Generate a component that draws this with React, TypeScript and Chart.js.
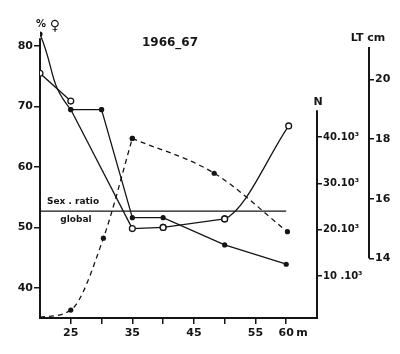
import React, { useEffect, useRef } from 'react';
import { Chart, registerables } from 'chart.js';
Chart.register(...registerables);

// ---- data ----
const depths = [20, 25, 30, 35, 40, 50, 60];
const femaleFilled = [82, 69.5, 69.5, 51.6, 51.6, 47.1, 43.9];
const openDepths = [20, 25, 35, 40, 50, 60.4];
const openValues = [75.5, 70.9, 49.8, 50.0, 51.4, 66.8];
const nDepths = [20, 25, 30.3, 35, 48.3, 60.2];
const nValues = [1200, 2700, 18200, 39700, 32200, 19600];
const globalSexRatio = 52.7;
const globalRange = [20, 60];

const xTicks = [25, 30, 35, 40, 45, 50, 55, 60];
const xTickLabels: Record<number, string> = { 25: '25', 35: '35', 45: '45', 55: '55', 60: '60' };
const leftTicks = [40, 50, 60, 70, 80];
const nTicks = [10000, 20000, 30000, 40000];
const nTickLabels = ['10 .10³', '20.10³', '30.10³', '40.10³'];
const ltTicks = [14, 16, 18, 20];

// axis extents (scale values)
const leftAxisTop = 81.3;
const nAxisTop = 45800;
const ltAxisBottom = 14;
const ltAxisTop = 21.08;

const INK = '#151515';
const FONT = '"DejaVu Sans", sans-serif';

const pts = (xs: number[], ys: number[]) => xs.map((x, i) => ({ x, y: ys[i] }));

const filledPoint = { pointRadius: 2.6, pointBackgroundColor: INK, pointBorderWidth: 0, pointBorderColor: INK };
const openPoint = { pointRadius: 2.9, pointBackgroundColor: '#fff', pointBorderWidth: 1.3, pointBorderColor: INK };
const lineBase = { borderColor: INK, borderWidth: 1.3, tension: 0, fill: false, showLine: true };
const HIDE = 'rgba(0,0,0,0)';

const annotate = {
  id: 'annotate',
  beforeDatasetsDraw(chart: any) {
    const { ctx, scales, chartArea } = chart;
    const { y, n, lt } = scales;
    ctx.save();
    ctx.strokeStyle = INK;
    ctx.lineWidth = 2;
    const line = (x0: number, y0: number, x1: number, y1: number) => {
      ctx.beginPath(); ctx.moveTo(x0, y0); ctx.lineTo(x1, y1); ctx.stroke();
    };
    line(chartArea.left - 1, chartArea.bottom, chartArea.right + 1, chartArea.bottom);
    line(chartArea.left, chartArea.bottom, chartArea.left, y.getPixelForValue(leftAxisTop));
    line(n.left, chartArea.bottom, n.left, n.getPixelForValue(nAxisTop));
    line(lt.left, lt.getPixelForValue(ltAxisBottom), lt.left, lt.getPixelForValue(ltAxisTop));
    ctx.restore();
  },
  afterDraw(chart: any) {
    const { ctx, scales, chartArea } = chart;
    const { x, y, n, lt } = scales;
    ctx.save();
    ctx.fillStyle = INK;
    ctx.textBaseline = 'middle';
    ctx.textAlign = 'center';
    ctx.font = `bold 12px ${FONT}`;
    ctx.fillText('1966_67', chartArea.left + 130, chartArea.top + 15);
    ctx.font = `bold 10px ${FONT}`;
    ctx.fillText('%', chartArea.left + 1, chartArea.top - 4);
    ctx.font = `bold 14px ${FONT}`;
    ctx.fillText('♀', chartArea.left + 15, chartArea.top - 2);
    ctx.font = `bold 11px ${FONT}`;
    ctx.fillText('N', n.left + 1, n.getPixelForValue(nAxisTop) - 8);
    ctx.fillText('LT cm', lt.left - 1, chartArea.top + 10);
    ctx.font = `bold 9px ${FONT}`;
    const gy = y.getPixelForValue(globalSexRatio);
    ctx.fillText('Sex . ratio', chartArea.left + 33, gy - 9);
    ctx.fillText('global', chartArea.left + 36, gy + 9);
    ctx.font = `bold 11px ${FONT}`;
    ctx.textAlign = 'left';
    ctx.fillText('m', x.getPixelForValue(60) + 10, chartArea.bottom + 15);
    ctx.restore();
  },
};

export default function App() {
  const ref = useRef<HTMLCanvasElement | null>(null);
  useEffect(() => {
    document.body.style.margin = '0';
    const canvas = ref.current;
    if (!canvas) return;
    const tickFont = (size: number) => ({ family: FONT, size, weight: 'bold' as const });
    const chart = new Chart(canvas, {
      type: 'line',
      data: {
        datasets: [
          {
            ...lineBase, ...filledPoint, data: pts(depths.slice(0, 3), femaleFilled.slice(0, 3)), tension: 0.5, yAxisID: 'y', order: 2,
            segment: { borderColor: (c: any) => (c.p0DataIndex === 1 ? HIDE : INK) },
          } as any,
          { ...lineBase, ...filledPoint, data: pts(depths.slice(1), femaleFilled.slice(1)), yAxisID: 'y', order: 2 } as any,
          { ...lineBase, ...openPoint, data: pts(openDepths.slice(0, 2), openValues.slice(0, 2)), yAxisID: 'y', order: 0 } as any,
          { ...lineBase, pointRadius: 0, data: [{ x: depths[1], y: femaleFilled[1] }, { x: openDepths[2], y: openValues[2] }], yAxisID: 'y', order: 3 } as any,
          { ...lineBase, ...openPoint, data: pts(openDepths.slice(2, 5), openValues.slice(2, 5)), yAxisID: 'y', order: 0 } as any,
          {
            ...lineBase, ...openPoint, data: pts(openDepths.slice(3), openValues.slice(3)), cubicInterpolationMode: 'monotone', yAxisID: 'y', order: 0,
            segment: { borderColor: (c: any) => (c.p0DataIndex === 0 ? HIDE : INK) },
          } as any,
          { ...lineBase, ...filledPoint, pointRadius: [0, 2.6, 2.6, 2.6], borderDash: [5, 4], data: pts(nDepths.slice(0, 4), nValues.slice(0, 4)), cubicInterpolationMode: 'monotone', yAxisID: 'n', order: 2 } as any,
          { ...lineBase, ...filledPoint, borderDash: [5, 4], data: pts(nDepths.slice(3), nValues.slice(3)), cubicInterpolationMode: 'monotone', yAxisID: 'n', order: 2 } as any,
          { ...lineBase, borderWidth: 1.2, pointRadius: 0, data: pts(globalRange, [globalSexRatio, globalSexRatio]), yAxisID: 'y', order: 4 } as any,
        ],
      },
      options: {
        responsive: false,
        maintainAspectRatio: false,
        animation: false,
        devicePixelRatio: 1,
        layout: { padding: { top: 28, left: 0, right: 0, bottom: 0 } },
        plugins: { legend: { display: false }, tooltip: { enabled: false }, title: { display: false } },
        scales: {
          x: {
            type: 'linear', position: 'bottom', min: 20, max: 65,
            afterBuildTicks: (s: any) => { s.ticks = xTicks.map((v) => ({ value: v })); },
            afterFit: (s: any) => { s.height = 36; },
            ticks: { callback: (v: any) => xTickLabels[v] ?? '', autoSkip: false, maxRotation: 0, color: INK, font: tickFont(11), padding: 3 },
            grid: { drawOnChartArea: false, drawTicks: true, tickLength: 6, color: INK, lineWidth: 1.5 },
            border: { display: false },
          },
          y: {
            type: 'linear', position: 'left', min: 35, max: 83,
            afterBuildTicks: (s: any) => { s.ticks = leftTicks.map((v) => ({ value: v })); },
            afterFit: (s: any) => { s.width = 40; },
            ticks: { color: INK, font: tickFont(11), padding: 1 },
            grid: { drawOnChartArea: false, drawTicks: true, tickLength: 6, color: INK, lineWidth: 1.5 },
            border: { display: false },
          },
          n: {
            type: 'linear', position: 'right', min: 1000, max: 63500,
            afterBuildTicks: (s: any) => { s.ticks = nTicks.map((v) => ({ value: v })); },
            afterFit: (s: any) => { s.width = 52; },
            ticks: { callback: (_v: any, i: number) => nTickLabels[i], color: INK, font: tickFont(10), padding: 1 },
            grid: { drawOnChartArea: false, drawTicks: true, tickLength: 5, color: INK, lineWidth: 1.5 },
            border: { display: false },
          },
          lt: {
            type: 'linear', position: 'right', min: 12, max: 21.72,
            afterBuildTicks: (s: any) => { s.ticks = ltTicks.map((v) => ({ value: v })); },
            afterFit: (s: any) => { s.width = 31; },
            ticks: { color: INK, font: tickFont(11), padding: 1 },
            grid: { drawOnChartArea: false, drawTicks: true, tickLength: 5, color: INK, lineWidth: 1.5 },
            border: { display: false },
          },
        },
      } as any,
      plugins: [annotate],
    });
    return () => chart.destroy();
  }, []);
  return (
    <div style={{ width: 400, height: 354, background: '#fff' }}>
      <canvas ref={ref} width={400} height={354} style={{ display: 'block' }} />
    </div>
  );
}
